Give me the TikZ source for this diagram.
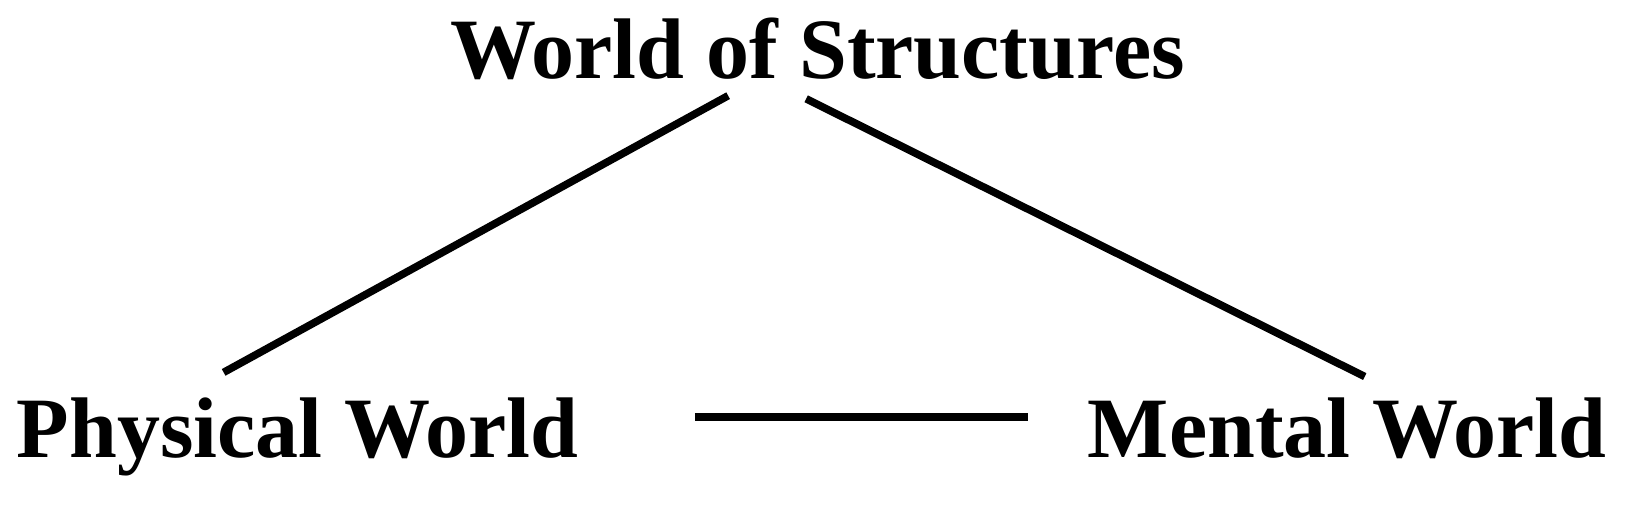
\documentclass[tikz,border=0pt]{standalone}
\usepackage{fontspec}
\setmainfont{Liberation Serif}
\begin{document}
\begin{tikzpicture}[x=0.52pt,y=-0.52pt,
  lbl/.style={font=\fontsize{43}{50}\selectfont\bfseries, inner sep=0pt, anchor=base},
  conn/.style={line width=3.8pt}]
\useasboundingbox (0,0) rectangle (1568,490);
\node[lbl] (top) at (786,75) {World of Structures};
\node[lbl] (phys) at (286,440) {Physical World};
\node[lbl] (ment) at (1295,440) {Mental World};
\coordinate (tl) at (700,92);
\coordinate (pl) at (215,358);
\coordinate (tr) at (775,95);
\coordinate (mr) at (1312,362);
\coordinate (hl) at (668,401);
\coordinate (hr) at (988,401);
\draw[conn] (tl) -- (pl);
\draw[conn] (tr) -- (mr);
\draw[conn] (hl) -- (hr);
\end{tikzpicture}
\end{document}
